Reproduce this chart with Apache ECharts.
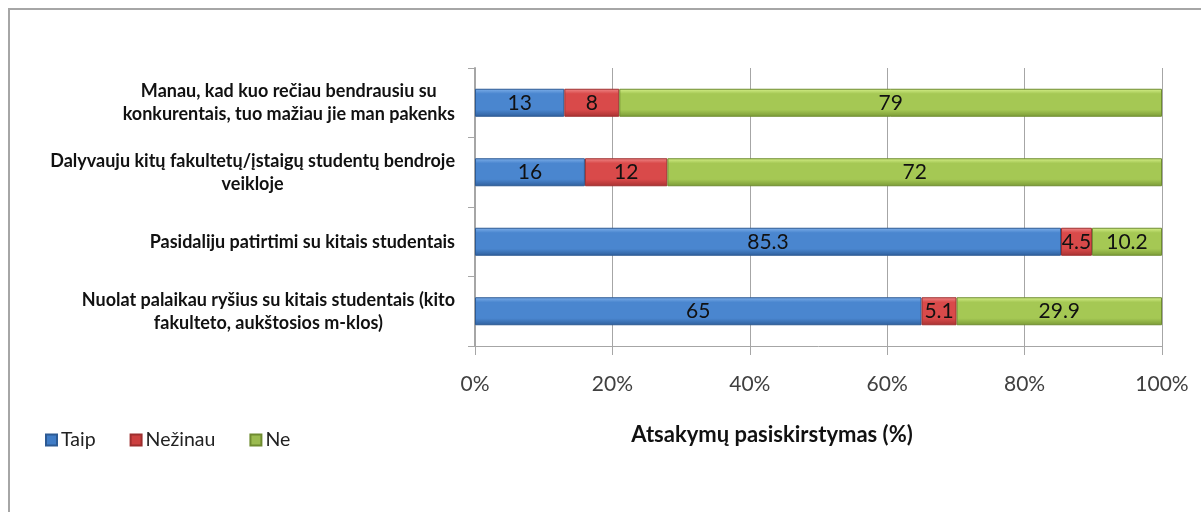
<!DOCTYPE html>
<html>
<head>
<meta charset="utf-8">
<script src="https://cdn.jsdelivr.net/npm/echarts@6/dist/echarts.min.js"></script>
<style>
html,body{margin:0;padding:0;background:#fff;}
#c{width:1201px;height:512px;}
</style>
</head>
<body>
<div id="c"></div>
<script>
const categories = [
  "Manau, kad kuo rečiau bendrausiu su\nkonkurentais, tuo mažiau jie man pakenks",
  "Dalyvauju kitų fakultetų/įstaigų studentų bendroje\nveikloje",
  "Pasidaliju patirtimi su kitais studentais",
  "Nuolat palaikau ryšius su kitais studentais (kito\nfakulteto, aukštosios m-klos)"
];
const seriesNames = ["Taip", "Nežinau", "Ne"];
const taip = [13, 16, 85.3, 65];
const nezinau = [8, 12, 4.5, 5.1];
const ne = [79, 72, 10.2, 29.9];
const xTicks = [0, 20, 40, 60, 80, 100];
const axisTitle = "Atsakymų pasiskirstymas (%)";

const FONT = "Lato, 'Open Sans', sans-serif";

function grad(top, mid, bot) {
  return new echarts.graphic.LinearGradient(0, 0, 0, 1, [
    {offset: 0, color: top},
    {offset: 0.18, color: mid},
    {offset: 0.75, color: mid},
    {offset: 1, color: bot}
  ]);
}
const styles = [
  {color: grad('#7fb0ea', '#4a86cf', '#2f5f9c'), borderColor: '#2d5a93'},
  {color: grad('#f08a8a', '#d94a4a', '#a83232'), borderColor: '#9e2f2f'},
  {color: grad('#d6f08a', '#a5c854', '#7a9a36'), borderColor: '#6f8c30'}
];
const values = [taip, nezinau, ne];

const chart = echarts.init(document.getElementById('c'), null, {renderer: 'canvas'});
chart.setOption({
  backgroundColor: '#ffffff',
  animation: false,
  textStyle: {fontFamily: FONT},
  graphic: [{
    type: 'rect',
    shape: {x: 9, y: 9, width: 1300, height: 600},
    style: {fill: 'none', stroke: '#a6a6a6', lineWidth: 2},
    silent: true,
    z: -1
  }],
  legend: {
    left: 40,
    top: 425,
    itemWidth: 11,
    itemHeight: 11,
    itemGap: 34,
    icon: 'rect',
    textStyle: {fontFamily: FONT, fontSize: 19.5, color: '#222', padding: [0, 0, 0, -1]},
    data: seriesNames.map((n, i) => ({name: n, itemStyle: {color: ['#3f7cc6', '#cc4040', '#9bbb50'][i]}}))
  },
  grid: {left: 475, right: 39, top: 68, bottom: 166, containLabel: false},
  xAxis: {
    type: 'value',
    min: xTicks[0],
    max: xTicks[xTicks.length - 1],
    interval: 20,
    axisLine: {show: true, lineStyle: {color: '#a6a6a6', width: 1}},
    axisTick: {show: true, length: 9, lineStyle: {color: '#a6a6a6'}},
    splitLine: {show: true, lineStyle: {color: '#a6a6a6', width: 1}},
    axisLabel: {
      margin: 28,
      fontSize: 21,
      color: '#404040',
      fontFamily: FONT,
      formatter: v => v + '%'
    },
    name: axisTitle,
    nameLocation: 'middle',
    nameGap: 78,
    nameTextStyle: {
      fontFamily: FONT,
      fontSize: 22,
      fontWeight: 'bold',
      color: '#111',
      padding: [0, 93, 0, 0]
    }
  },
  yAxis: {
    type: 'category',
    inverse: true,
    data: categories,
    axisLine: {show: true, lineStyle: {color: '#a6a6a6', width: 2}},
    axisTick: {show: true, length: 7, lineStyle: {color: '#a6a6a6'}},
    axisLabel: {
      margin: 20,
      fontFamily: FONT,
      color: '#111',
      formatter: function (v) {
        return v.split('\n').map(l => '{c|' + l + '}').join('\n');
      },
      rich: {
        c: {align: 'center', fontWeight: 'bold', fontSize: 18, lineHeight: 23, fontFamily: FONT, color: '#111'}
      }
    }
  },
  series: seriesNames.map((n, i) => ({
    name: n,
    type: 'bar',
    stack: 'all',
    barWidth: 28,
    data: values[i],
    itemStyle: Object.assign({borderWidth: 1}, styles[i]),
    label: {
      show: true,
      position: 'inside',
      fontFamily: FONT,
      fontSize: 21,
      color: '#111'
    }
  }))
});
</script>
</body>
</html>
